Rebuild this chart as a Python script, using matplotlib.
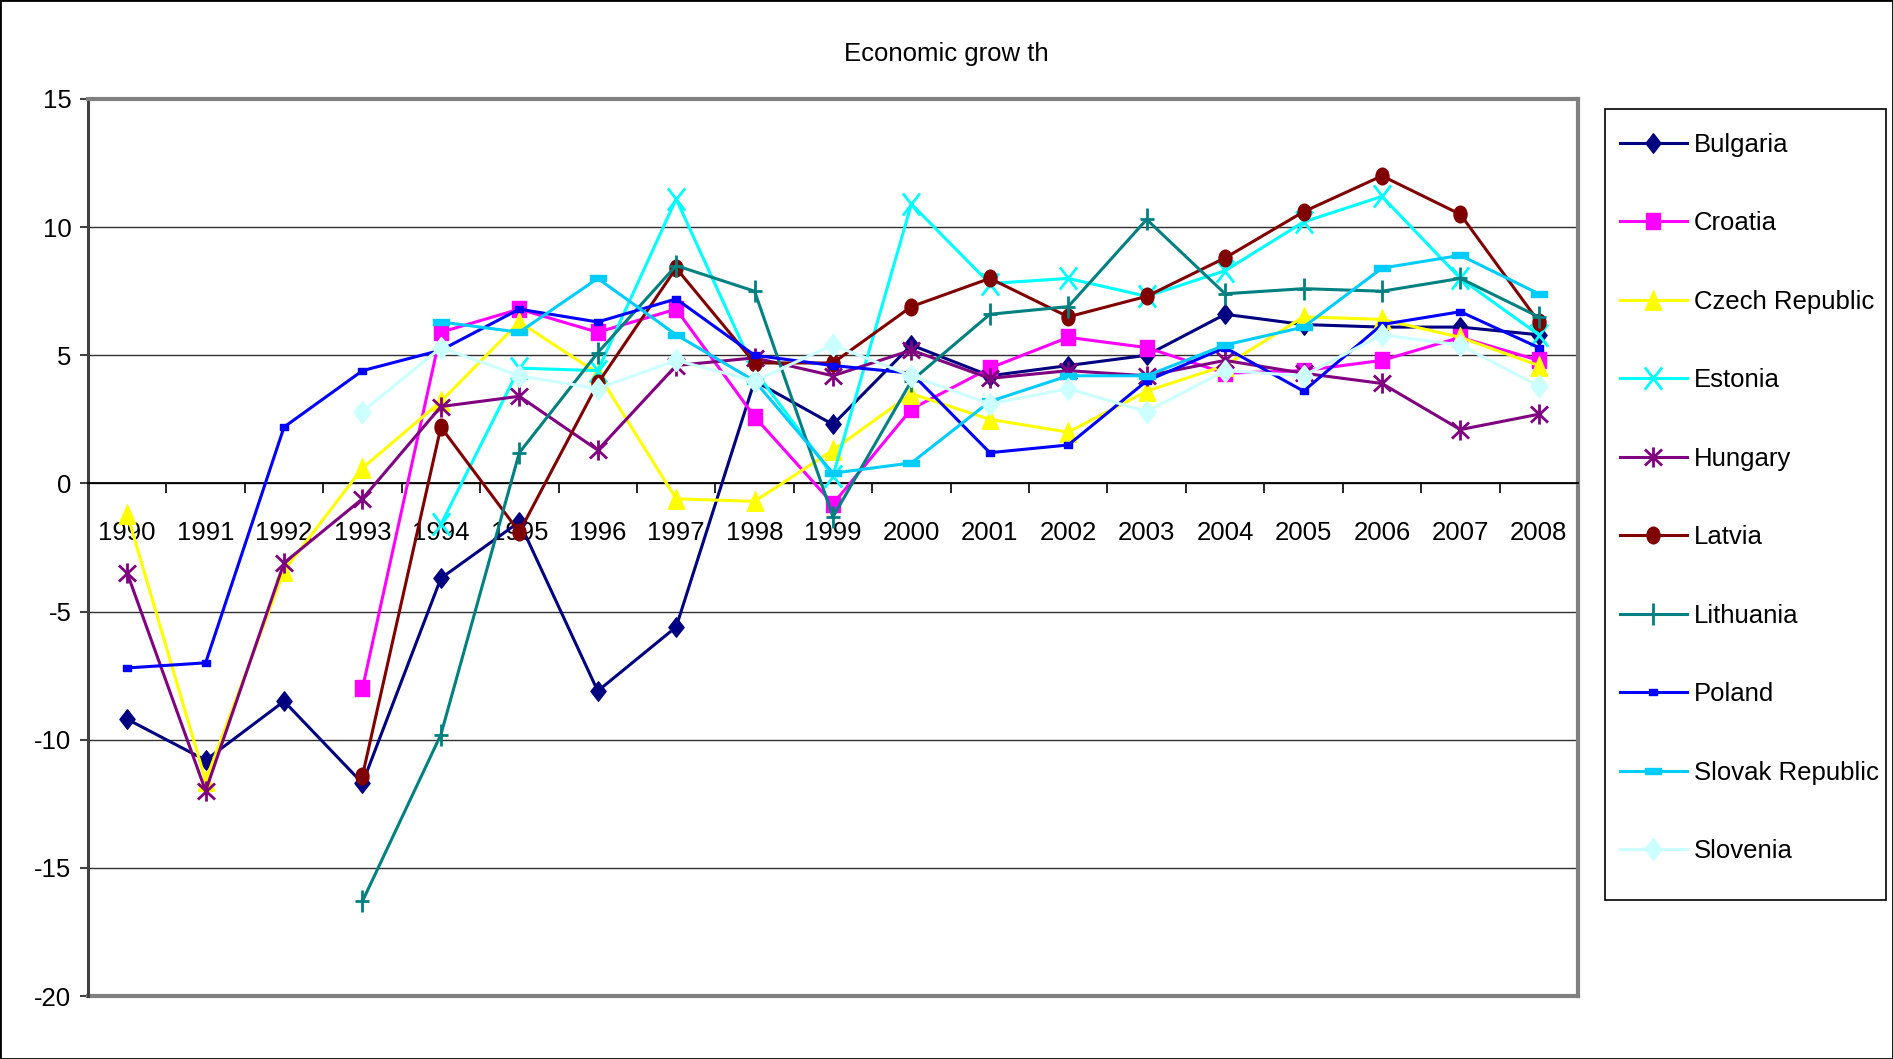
import numpy as np
import matplotlib.pyplot as plt
from matplotlib.path import Path
from matplotlib.transforms import Affine2D
from matplotlib.patches import Rectangle

nan = np.nan
years = [str(y) for y in range(1990, 2009)]

bulgaria = [-9.2, -10.8, -8.5, -11.7, -3.7, -1.5, -8.1, -5.6, 4.0, 2.3, 5.4, 4.2, 4.6, 5.0, 6.6, 6.2, 6.1, 6.1, 5.8]
croatia = [nan, nan, nan, -8.0, 5.9, 6.8, 5.9, 6.8, 2.6, -0.8, 2.9, 4.5, 5.7, 5.3, 4.3, 4.4, 4.8, 5.7, 4.8]
czech = [-1.2, -11.6, -3.4, 0.6, 3.2, 6.3, 4.3, -0.6, -0.7, 1.3, 3.5, 2.5, 2.0, 3.6, 4.6, 6.5, 6.4, 5.7, 4.6]
estonia = [nan, nan, nan, nan, -1.6, 4.5, 4.4, 11.1, 4.4, 0.3, 10.9, 7.8, 8.0, 7.3, 8.3, 10.2, 11.2, 8.0, 5.8]
hungary = [-3.5, -12.0, -3.1, -0.6, 3.0, 3.4, 1.3, 4.6, 4.9, 4.2, 5.2, 4.1, 4.4, 4.2, 4.8, 4.3, 3.9, 2.1, 2.7]
latvia = [nan, nan, nan, -11.4, 2.2, -1.9, 3.9, 8.4, 4.7, 4.7, 6.9, 8.0, 6.5, 7.3, 8.8, 10.6, 12.0, 10.5, 6.3]
lithuania = [nan, nan, nan, -16.3, -9.8, 1.2, 5.1, 8.5, 7.5, -1.3, 4.0, 6.6, 6.9, 10.3, 7.4, 7.6, 7.5, 8.0, 6.5]
poland = [-7.2, -7.0, 2.2, 4.4, 5.2, 6.8, 6.3, 7.2, 5.0, 4.6, 4.3, 1.2, 1.5, 4.0, 5.3, 3.6, 6.2, 6.7, 5.3]
slovakia = [nan, nan, nan, nan, 6.3, 5.9, 8.0, 5.8, 4.0, 0.4, 0.8, 3.2, 4.2, 4.2, 5.4, 6.1, 8.4, 8.9, 7.4]
slovenia = [nan, nan, nan, 2.8, 5.3, 4.2, 3.7, 4.8, 4.0, 5.4, 4.2, 3.1, 3.7, 2.8, 4.4, 4.2, 5.8, 5.4, 3.8]

names = ['Bulgaria', 'Croatia', 'Czech Republic', 'Estonia', 'Hungary',
         'Latvia', 'Lithuania', 'Poland', 'Slovak Republic', 'Slovenia']
series = [bulgaria, croatia, czech, estonia, hungary, latvia, lithuania, poland, slovakia, slovenia]
colors = ['#000080', '#FF00FF', '#FFFF00', '#00FFFF', '#800080',
          '#800000', '#008080', '#0000FF', '#00CCFF', '#CCFFFF']

# marker shapes (Excel style)
def closed(pts):
    return Path(pts + [pts[0]], [Path.MOVETO] + [Path.LINETO] * (len(pts) - 1) + [Path.CLOSEPOLY])

diamond = closed([(0, 1), (0.78, 0), (0, -1), (-0.78, 0)])
square = closed([(-0.85, -1), (0.85, -1), (0.85, 1), (-0.85, 1)])
tri = closed([(0, 1), (0.85, -1), (-0.85, -1)])
xmark = Path([(-0.77, -1), (0.77, 1), (-0.77, 1), (0.77, -1)], [Path.MOVETO, Path.LINETO] * 2)
aster = Path([(0, -1), (0, 1), (-0.85, -0.8), (0.85, 0.8), (-0.85, 0.8), (0.85, -0.8)],
             [Path.MOVETO, Path.LINETO] * 3)
circ = Path.unit_circle().transformed(Affine2D().scale(0.78, 1))
plus = Path([(0, -1), (0, 1), (-0.6, 0), (0.6, 0)], [Path.MOVETO, Path.LINETO] * 2)
rect_small = closed([(-1, -0.64), (1, -0.64), (1, 0.64), (-1, 0.64)])
rect_wide = closed([(-1, -0.32), (1, -0.32), (1, 0.32), (-1, 0.32)])

markers = [diamond, square, tri, xmark, aster, circ, plus, rect_small, rect_wide, diamond]
msizes = [14, 12, 14, 16, 14.5, 12, 16, 6, 12.2, 16]
mews = [1, 1, 1, 2, 2, 1, 2, 1, 1, 1]

plt.rcParams['font.family'] = ['Liberation Sans', 'DejaVu Sans']
plt.rcParams['axes.unicode_minus'] = False

W, H = 1893, 1059
fig = plt.figure(figsize=(W / 100, H / 100), dpi=100)
ax = fig.add_axes([88 / W, 63 / H, 1490 / W, 897 / H])

x = np.arange(len(years))
for i in range(len(names)):
    ax.plot(x, series[i], color=colors[i], lw=2.2, marker=markers[i], ms=msizes[i],
            mfc=colors[i], mec=colors[i], mew=mews[i], label=names[i], zorder=3 + i,
            clip_on=False)

ax.set_xlim(-0.5, len(years) - 0.5)
ax.set_ylim(-20, 15)
ax.set_yticks(range(-20, 16, 5))
ax.yaxis.grid(True, color='#303030', lw=1)
ax.set_axisbelow(True)
ax.tick_params(axis='y', direction='out', length=6, width=1.5, color='#404040',
               labelsize=18.5, pad=6)

ax.set_xticks(np.arange(-0.5, len(years), 1))
ax.set_xticklabels([])
ax.set_xticks(x, minor=True)
ax.set_xticklabels(years, minor=True)
ax.tick_params(axis='x', which='major', direction='out', length=7, width=1.2, color='black')
ax.tick_params(axis='x', which='minor', length=0, pad=27, labelsize=18.5)

ax.spines['bottom'].set_position(('data', 0))
ax.spines['bottom'].set_color('black')
ax.spines['bottom'].set_linewidth(1.3)
ax.spines['left'].set_color('#404040')
ax.spines['left'].set_linewidth(2.2)
for s in ['top', 'right']:
    ax.spines[s].set_color('#808080')
    ax.spines[s].set_linewidth(3)
ax.axhline(-20, color='#808080', lw=3, clip_on=False, zorder=2)

fig.text(0.5, 1 - 54 / H, 'Economic grow th', ha='center', va='center', fontsize=18.5)

leg = fig.legend(loc='upper left', bbox_to_anchor=(1620 / W, 1 - 133 / H),
                 borderaxespad=0, fontsize=18.5, frameon=False,
                 labelspacing=2.12, handlelength=2.6, handletextpad=0.27, borderpad=0)

# legend box
fig.patches.append(Rectangle((1605 / W, 1 - 900 / H), 281 / W, 791 / H,
                             transform=fig.transFigure, fill=False,
                             edgecolor='black', lw=1.2))
# chart area border
fig.patches.append(Rectangle((0, 0), 1, 1, transform=fig.transFigure, fill=False,
                             edgecolor='black', lw=2))

fig.savefig('out.png', dpi=100)
